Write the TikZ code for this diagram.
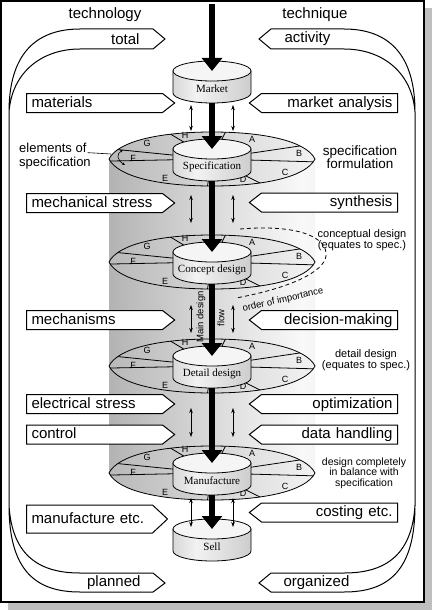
\documentclass[tikz,border=0pt]{standalone}
\usepackage{fontspec}
\setmainfont{Liberation Sans}
\newfontfamily\drumfont{Liberation Serif}
\usepackage{tikz}
\usetikzlibrary{arrows.meta,shapes.symbols}

\pgfdeclarehorizontalshading{barrel}{100bp}{color(0bp)=(gray!58); color(15bp)=(gray!72); color(45bp)=(gray!35); color(72bp)=(gray!5); color(100bp)=(gray!30)}
\pgfdeclarehorizontalshading{can}{100bp}{color(0bp)=(gray!65); color(40bp)=(gray!10); color(100bp)=(gray!60)}

\begin{document}
\begin{tikzpicture}[x=1pt, y=-1pt,
    lbox/.style={signal, signal to=east, signal pointer angle=76, draw, line width=1pt, fill=white, minimum height=19pt, inner xsep=5pt, inner ysep=0pt, text width=126pt, text height=11pt, text depth=3pt, align=left, anchor=west, font=\fontsize{15}{15}\selectfont},
    rbox/.style={lbox, signal to=west, align=right, anchor=east},
    big/.style={font=\fontsize{15}{15}\selectfont},
    note/.style={align=center, font=\fontsize{11}{11}\selectfont},
    sector/.style={font=\fontsize{9}{9}\selectfont, inner sep=0pt},
    drumlabel/.style={font=\drumfont\fontsize{11}{11}\selectfont},
    flow/.style={line width=6pt, -{Triangle[length=13pt, width=20pt]}},
    link/.style={{Stealth[length=5pt, width=3.5pt]}-{Stealth[length=5pt, width=3.5pt]}, semithick},
    lens/.style={insert path={(109,#1) .. controls (118,#1-18) and (160,#1-27) .. (212,#1-27) .. controls (264,#1-27) and (306,#1-18) .. (315,#1) .. controls (306,#1+18) and (264,#1+27) .. (212,#1+27) .. controls (160,#1+27) and (118,#1+18) .. (109,#1) -- cycle}}
]
\useasboundingbox (0,0) rectangle (432,610);

% Frame and shadow
\fill[gray!50] (8,8) rectangle (432,610);
\draw[line width=1.5pt, fill=white] (1,1) rectangle (424,602);

% Headings
\node[big] (technology) at (105,15) {technology};
\node[big] (technique) at (315,15) {technique};

% Total / planned band
\draw[line width=1pt] (9,112) .. controls (9,55) and (35,29) .. (80,29) -- (153,29) -- (165,39) -- (153,49) -- (80,49) .. controls (42,49) and (12,72) .. (9,112) -- (9,505) .. controls (12,558) and (42,573) .. (80,573) -- (153,573) -- (165,583) -- (153,592) -- (80,592) .. controls (35,592) and (9,570) .. (9,505);
\node[big, anchor=east] (total) at (143,39) {total};
\node[big, anchor=east] (planned) at (144,583) {planned};

% Activity / organized band
\draw[line width=1pt] (415,112) .. controls (415,55) and (389,29) .. (344,29) -- (271,29) -- (259,39) -- (271,49) -- (344,49) .. controls (382,49) and (412,72) .. (415,112) -- (415,505) .. controls (412,558) and (382,573) .. (344,573) -- (271,573) -- (259,583) -- (271,592) -- (344,592) .. controls (389,592) and (415,570) .. (415,505);
\node[big, anchor=west] (activity) at (281,39) {activity};
\node[big, anchor=west] (organized) at (280,583) {organized};

% Design core
\shade[shading=barrel] (109,159) rectangle (315,473);

% Inputs (left) and techniques (right)
\node[lbox] (materials) at (26,103) {materials};
\node[lbox] (mechstress) at (26,203) {mechanical stress};
\node[lbox] (mechanisms) at (26,320) {mechanisms};
\node[lbox] (elecstress) at (26,404) {electrical stress};
\node[lbox] (control) at (26,434.5) {control};
\node[lbox, minimum height=28pt, text width=116pt, signal pointer angle=86] (manufetc) at (26,519) {manufacture etc.};
\node[rbox] (analysis) at (398,103) {market analysis};
\node[rbox] (synthesis) at (398,202.5) {synthesis};
\node[rbox] (decision) at (398,320) {decision-making};
\node[rbox] (optimization) at (398,404) {optimization};
\node[rbox] (datahandling) at (398,434.5) {data handling};
\node[rbox] (costing) at (398,512.5) {costing etc.};

% Specification discs
\foreach \y in {159,262,366,473} {
    \shade[left color=gray!55, right color=gray!10] [lens=\y];
    \begin{scope}
        \clip [lens=\y];
        \foreach \dx/\dy in {-45/-27, 15/-30, 101/-15, 108/3, 60/30, -5/30, -100/2, -100/-10}
            \draw[thick] (212,\y) -- ++(2*\dx,2*\dy);
    \end{scope}
    \draw[thick] [lens=\y];
    \foreach \lab/\dx/\dy in {H/-27/-24, A/40/-20, B/87/-6, C/73/13, D/31/20, E/-47/19, F/-79/-1, G/-65/-16}
        \path (212,\y) ++(\dx,\dy) node[sector] {\lab};
}

% Stages
\foreach \y/\txt [count=\i] in {81/Market, 159/Specification, 262/Concept design, 366/Detail design, 473/Manufacture, 539/Sell} {
    \shadedraw[shading=can, thick] (173,\y-10) -- (173,\y+12) .. controls (173,\y+17.5) and (190.5,\y+22) .. (212,\y+22) .. controls (233.5,\y+22) and (251,\y+17.5) .. (251,\y+12) -- (251,\y-10) -- cycle;
    \draw[thick, fill=gray!8] (212,\y-10) ellipse [x radius=39, y radius=10];
    \node[drumlabel] (stage\i) at (212,\y+8) {\txt};
    \coordinate (in\i) at (212,\y-10);
    \coordinate (out\i) at (212,\y+22);
}

% Main design flow
\coordinate (start) at (212,4);
\draw[flow] (start) -- (in1);
\foreach \a/\b in {1/2, 2/3, 3/4, 4/5, 5/6}
    \draw[flow] (out\a) -- (in\b);

% Feedback between stages
\foreach \a/\b in {105/131, 195/223, 305/333, 408/437, 498/527} {
    \draw[link] (191,\a) -- (191,\b);
    \draw[link] (233,\a) -- (233,\b);
}
\node[rotate=90, font=\fontsize{9.5}{9.5}\selectfont] (maindesign) at (201,317) {Main design};
\node[rotate=90, font=\fontsize{9.5}{9.5}\selectfont] (flowlabel) at (221,318) {flow};

% Elements of specification
\node[anchor=west, font=\fontsize{13}{13}\selectfont, inner sep=1pt] (elem1) at (18,148) {elements of};
\node[anchor=west, font=\fontsize{13}{13}\selectfont, inner sep=1pt] (elem2) at (18,163) {specification};
\coordinate (tipF) at (111,154);
\draw[semithick] (elem1.base east) -- (tipF);
\draw[semithick, {Stealth[length=3pt, width=2.5pt]}-{Stealth[length=3pt, width=2.5pt]}] (123,150) .. controls (116,154) and (117,160) .. (125,165);

% Right-hand notes
\node[note, font=\fontsize{13.5}{13.5}\selectfont] (specform) at (360,157) {specification\\formulation};
\node[note] (conceptnote) at (362,240) {conceptual design\\(equates to spec.)};
\node[note] (detailnote) at (366,360) {detail design\\(equates to spec.)};
\node[note, font=\fontsize{10.5}{10.5}\selectfont] (balance) at (364,473) {design completely\\in balance with\\specification};

% Order of importance
\draw[thick, dash pattern=on 4pt off 3pt] (240,229) .. controls (300,224) and (328,238) .. (326,256) .. controls (324,272) and (290,288) .. (236,298);
\node[rotate=13, font=\fontsize{9.5}{9.5}\selectfont, inner sep=0pt] (importance) at (283,300) {order of importance};
\end{tikzpicture}
\end{document}
